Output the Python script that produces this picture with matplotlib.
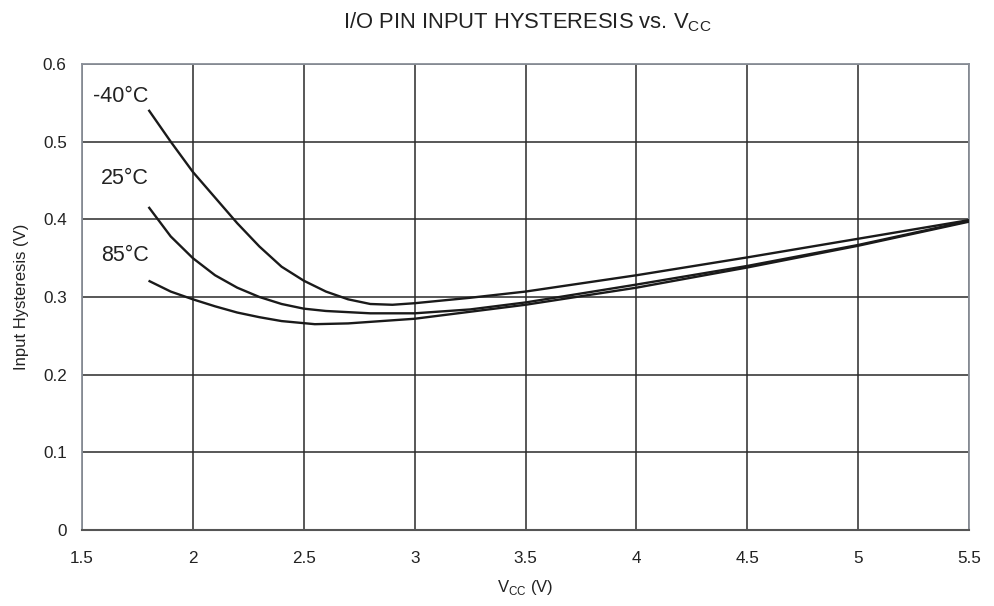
import matplotlib
matplotlib.use("Agg")
import matplotlib.pyplot as plt

plt.rcParams['font.family'] = ['Liberation Sans', 'DejaVu Sans']
plt.rcParams['mathtext.fontset'] = 'custom'
plt.rcParams['mathtext.rm'] = 'Liberation Sans'

vcc_m40 = [1.8, 1.9, 2.0, 2.1, 2.2, 2.3, 2.4, 2.5, 2.6, 2.7, 2.8, 2.9, 3.0, 3.25, 3.5, 4.0, 4.5, 5.0, 5.5]
hys_m40 = [0.541, 0.500, 0.461, 0.428, 0.395, 0.365, 0.339, 0.321, 0.307, 0.297, 0.291, 0.290, 0.292, 0.299, 0.307, 0.328, 0.351, 0.375, 0.399]

vcc_25 = [1.8, 1.9, 2.0, 2.1, 2.2, 2.3, 2.4, 2.5, 2.6, 2.8, 3.0, 3.25, 3.5, 4.0, 4.5, 5.0, 5.5]
hys_25 = [0.416, 0.378, 0.350, 0.328, 0.312, 0.300, 0.291, 0.285, 0.282, 0.279, 0.279, 0.284, 0.293, 0.316, 0.340, 0.367, 0.398]

vcc_85 = [1.8, 1.9, 2.0, 2.1, 2.2, 2.3, 2.4, 2.55, 2.7, 3.0, 3.5, 4.0, 4.5, 5.0, 5.5]
hys_85 = [0.321, 0.307, 0.297, 0.288, 0.280, 0.274, 0.269, 0.265, 0.266, 0.272, 0.290, 0.312, 0.338, 0.366, 0.397]

labels = ["-40°C", "25°C", "85°C"]
label_pos = [(1.80, 0.558), (1.80, 0.452), (1.80, 0.353)]

xticks = [1.5, 2, 2.5, 3, 3.5, 4, 4.5, 5, 5.5]
xtick_labels = ["1.5", "2", "2.5", "3", "3.5", "4", "4.5", "5", "5.5"]
yticks = [0, 0.1, 0.2, 0.3, 0.4, 0.5, 0.6]
ytick_labels = ["0", "0.1", "0.2", "0.3", "0.4", "0.5", "0.6"]

fig = plt.figure(figsize=(9.94, 6.06), dpi=100)
ax = fig.add_axes([0.0825, 0.1254, 0.8924, 0.769])

for xs, ys in [(vcc_m40, hys_m40), (vcc_25, hys_25), (vcc_85, hys_85)]:
    ax.plot(xs, ys, color='#1a1a1a', lw=1.7, solid_capstyle='butt',
            solid_joinstyle='round', zorder=3)

for lab, (lx, ly) in zip(labels, label_pos):
    ax.text(lx, ly, lab, fontsize=15.5, ha='right', va='center', color='#222222')

ax.set_xlim(1.5, 5.5)
ax.set_ylim(0, 0.6)
ax.set_xticks(xticks)
ax.set_xticklabels(xtick_labels)
ax.set_yticks(yticks)
ax.set_yticklabels(ytick_labels)
ax.grid(True, color='#2a2a2a', lw=1.1)
ax.set_axisbelow(True)
ax.tick_params(length=0, labelsize=12.3, colors='#222222')
ax.tick_params(axis='x', pad=15)
ax.tick_params(axis='y', pad=11)
for s in ['top', 'right', 'left']:
    ax.spines[s].set_color('#8a9099')
    ax.spines[s].set_linewidth(1.3)
ax.spines['bottom'].set_color('#555555')
ax.spines['bottom'].set_linewidth(1.5)

ax.set_xlabel(r"V$_\mathregular{CC}$ (V)", fontsize=12, labelpad=9, color='#222222')
ax.set_ylabel("Input Hysteresis (V)", fontsize=12, labelpad=10, color='#222222')
fig.text(527 / 994, 1 - 22 / 606, r"I/O PIN INPUT HYSTERESIS vs. V$_\mathregular{CC}$",
         ha='center', va='center', fontsize=15.8, color='#222222')

fig.savefig("out.png", dpi=100)
